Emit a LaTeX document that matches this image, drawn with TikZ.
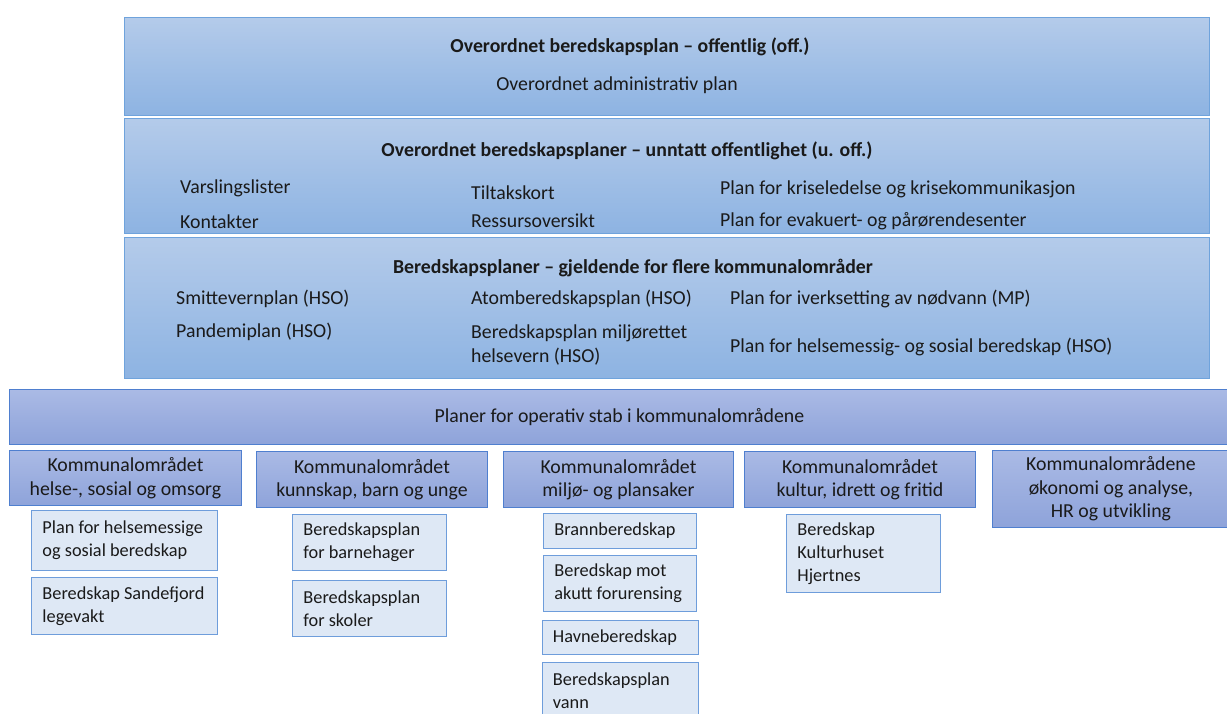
\documentclass[tikz,border=0pt]{standalone}
\usepackage{fontspec}
\setmainfont{Carlito}
\usepackage{xcolor}
\usetikzlibrary{positioning}

\definecolor{planTop}{HTML}{B4CBEA}
\definecolor{planBot}{HTML}{8DB3E2}
\definecolor{planEdge}{HTML}{6FA3DC}
\definecolor{stabTop}{HTML}{AABAE5}
\definecolor{stabBot}{HTML}{8EA3DA}
\definecolor{stabEdge}{HTML}{4F7FCF}
\definecolor{subFill}{HTML}{DEE8F5}
\definecolor{subEdge}{HTML}{6E9DDB}
\definecolor{ink}{HTML}{1A1A1A}

\tikzset{
    planbox/.style={draw=planEdge, line width=0.9pt, top color=planTop, bottom color=planBot, anchor=north west, inner sep=0pt},
    stabbox/.style={draw=stabEdge, line width=0.9pt, top color=stabTop, bottom color=stabBot, anchor=north west, align=center, text=ink, font=\fontsize{19.8}{23.5}\selectfont, inner sep=0pt},
    subbox/.style={draw=subEdge, line width=0.9pt, fill=subFill, anchor=north west, align=flush left, text=ink, font=\fontsize{18.3}{23}\selectfont, inner ysep=0pt, inner xsep=11pt},
    txt/.style={text=ink, font=\fontsize{19.8}{23.5}\selectfont, inner sep=0pt, anchor=west, align=flush left},
    hdr/.style={text=ink, font=\fontsize{19.8}{23.5}\selectfont\bfseries, inner sep=0pt}
}

\begin{document}
\begin{tikzpicture}[x=1pt, y=-1pt]
    \useasboundingbox (0,0) rectangle (1227,713);
    \clip (0,0) rectangle (1227,713);

    % offentlig plan
    \node [planbox, minimum width=1085pt, minimum height=98pt] (offBox) at (124,17) {};
    \node [hdr] (offTitle) at (630,47) {Overordnet beredskapsplan – offentlig (off.)};
    \node [txt, anchor=center] (offAdm) at (617,85) {Overordnet administrativ plan};

    % unntatt offentlighet
    \node [planbox, minimum width=1085pt, minimum height=115pt] (uoffBox) at (124,118) {};
    \node [hdr] (uoffTitle) at (627,151) {Overordnet beredskapsplaner – unntatt offentlighet (u. off.)};
    \node [txt] (varsling) at (180,188) {Varslingslister};
    \node [txt] (kontakter) at (180,222) {Kontakter};
    \node [txt] (tiltak) at (471,193) {Tiltakskort};
    \node [txt] (ressurs) at (471,221) {Ressursoversikt};
    \node [txt] (krise) at (720,189) {Plan for kriseledelse og krisekommunikasjon};
    \node [txt] (evakuert) at (720,221) {Plan for evakuert- og pårørendesenter};

    % flere kommunalomraader
    \node [planbox, minimum width=1085pt, minimum height=141pt] (flereBox) at (124,237) {};
    \node [hdr] (flereTitle) at (633,268) {Beredskapsplaner – gjeldende for flere kommunalområder};
    \node [txt] (smitte) at (176,299) {Smittevernplan (HSO)};
    \node [txt] (pandemi) at (176,332) {Pandemiplan (HSO)};
    \node [txt] (atom) at (471,299) {Atomberedskapsplan (HSO)};
    \node [txt] (miljo) at (471,345) {Beredskapsplan miljørettet\\helsevern (HSO)};
    \node [txt] (nodvann) at (730,299) {Plan for iverksetting av nødvann (MP)};
    \node [txt] (helsesos) at (730,347) {Plan for helsemessig- og sosial beredskap (HSO)};

    % operativ stab
    \node [stabbox, minimum width=1220pt, minimum height=55pt] (stab) at (9,389) {Planer for operativ stab i kommunalområdene};

    \node [stabbox, minimum width=232pt, minimum height=55pt] (helse) at (9,450) {Kommunalområdet\\helse-, sosial og omsorg};
    \node [stabbox, minimum width=231pt, minimum height=56pt] (kunnskap) at (256,451) {Kommunalområdet\\kunnskap, barn og unge};
    \node [stabbox, minimum width=230pt, minimum height=56pt] (miljoplan) at (503,451) {Kommunalområdet\\miljø- og plansaker};
    \node [stabbox, minimum width=231pt, minimum height=56pt] (kultur) at (744,451) {Kommunalområdet\\kultur, idrett og fritid};
    \node [stabbox, minimum width=237pt, minimum height=77pt] (okonomi) at (992,450) {Kommunalområdene\\økonomi og analyse,\\HR og utvikling};

    % planer per kommunalomraade
    \node [subbox, text width=164pt, minimum height=60pt] (helsePlan) at (31,510) {Plan for helsemessige\\og sosial beredskap};
    \node [subbox, text width=164pt, minimum height=57pt, below=6pt of helsePlan] (legevakt) {Beredskap Sandefjord\\legevakt};

    \node [subbox, text width=132pt, minimum height=56pt] (barnehage) at (292,514) {Beredskapsplan\\for barnehager};
    \node [subbox, text width=132pt, minimum height=56pt, below=9pt of barnehage] (skoler) {Beredskapsplan\\for skoler};

    \node [subbox, text width=131pt, minimum height=35pt] (brann) at (543,513) {Brannberedskap};
    \node [subbox, text width=131pt, minimum height=56pt, below=6pt of brann] (akutt) {Beredskap mot\\akutt forurensing};
    \node [subbox, text width=134pt, minimum height=34pt, below=8pt of akutt] (havn) {Havneberedskap};
    \node [subbox, text width=134pt, minimum height=57pt, below=7pt of havn] (vann) {Beredskapsplan\\vann};

    \node [subbox, text width=132pt, minimum height=78pt] (kulturhus) at (786,514) {Beredskap\\Kulturhuset\\Hjertnes};
\end{tikzpicture}
\end{document}
